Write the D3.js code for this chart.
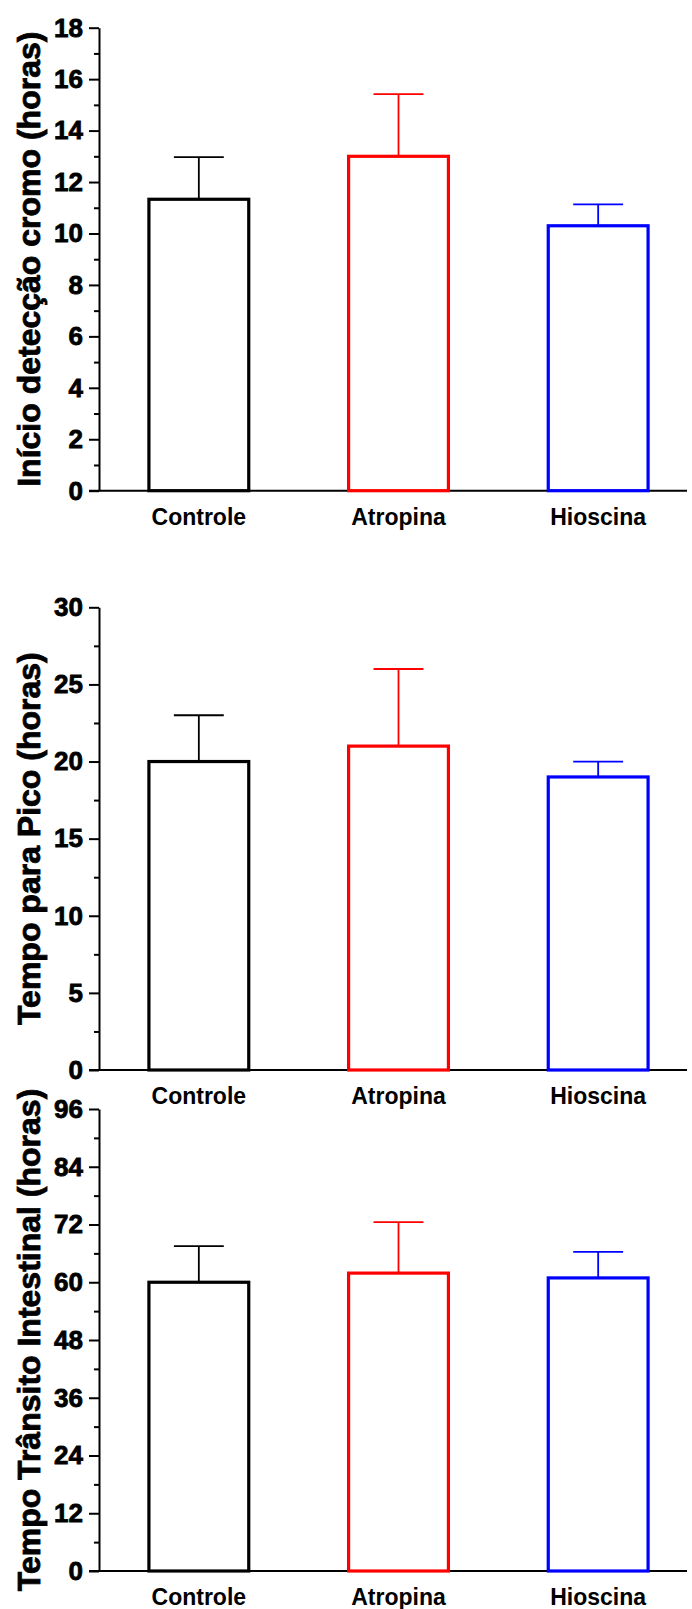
<!DOCTYPE html>
<html lang="pt">
<head>
<meta charset="utf-8">
<script src="https://cdn.jsdelivr.net/npm/d3@7"></script>
<style>
  body { margin: 0; background: #fff; }
  svg text { font-family: "Liberation Sans", Arial, sans-serif; font-weight: bold; fill: #000; }
  .heavy { stroke: #000; stroke-width: 0.8px; }
</style>
</head>
<body>
<svg id="chart" width="692" height="1609"></svg>
<script>
// dados
var categories = ["Controle", "Atropina", "Hioscina"];
var barColors = ["#000000", "#ff0000", "#0000ff"];

var inicioMean = [11.33, 13.0, 10.3];
var inicioSem = [1.64, 2.42, 0.83];
var inicioTicks = [0, 2, 4, 6, 8, 10, 12, 14, 16, 18];

var picoMean = [20, 21, 19];
var picoSem = [3, 5, 1];
var picoTicks = [0, 5, 10, 15, 20, 25, 30];

var transitoMean = [60, 61.9, 60.9];
var transitoSem = [7.5, 10.6, 5.4];
var transitoTicks = [0, 12, 24, 36, 48, 60, 72, 84, 96];

var panels = [
  { title: "Início detecção cromo (horas)", mean: inicioMean, sem: inicioSem, ticks: inicioTicks, top: 27.7, bottom: 490.7 },
  { title: "Tempo para Pico (horas)", mean: picoMean, sem: picoSem, ticks: picoTicks, top: 607.3, bottom: 1070 },
  { title: "Tempo Trânsito Intestinal (horas)", mean: transitoMean, sem: transitoSem, ticks: transitoTicks, top: 1109, bottom: 1571 }
];

var axisX = 99;
var svg = d3.select("#chart");

var x = d3.scaleBand()
  .domain(categories)
  .range([axisX, 698])
  .paddingInner(0.5)
  .paddingOuter(0.25);

panels.forEach(function (p) {
  var maxV = p.ticks[p.ticks.length - 1];
  var step = p.ticks[1] - p.ticks[0];
  var y = d3.scaleLinear().domain([0, maxV]).range([p.bottom, p.top]);

  // minor ticks between the labelled ones
  var minor = p.ticks.slice(0, -1).map(function (t) { return t + step / 2; });

  var g = svg.append("g");

  g.append("g")
    .attr("transform", "translate(" + axisX + ",0)")
    .call(d3.axisLeft(y).tickValues(minor).tickSize(5).tickSizeOuter(0).tickFormat(""))
    .call(function (a) { a.select(".domain").remove(); })
    .selectAll("line").attr("stroke", "#000").attr("stroke-width", 2);

  var ax = g.append("g")
    .attr("transform", "translate(" + axisX + ",0)")
    .call(d3.axisLeft(y).tickValues(p.ticks).tickSize(10).tickSizeOuter(0).tickPadding(6).tickFormat(d3.format("d")));
  ax.select(".domain").attr("stroke", "#000").attr("stroke-width", 2);
  ax.selectAll("line").attr("stroke", "#000").attr("stroke-width", 2);
  ax.selectAll("text")
    .attr("class", "heavy")
    .attr("font-size", 26)
    .attr("font-family", null)
    .style("font-weight", "bold");

  // x axis line
  g.append("line")
    .attr("x1", axisX - 10).attr("x2", 687)
    .attr("y1", y(0)).attr("y2", y(0))
    .attr("stroke", "#000").attr("stroke-width", 2);

  var rows = categories.map(function (c, i) {
    return { cat: c, mean: p.mean[i], sem: p.sem[i], color: barColors[i] };
  });

  var capW = x.bandwidth() / 2;

  // error bars (upper only)
  var eb = g.selectAll(".err").data(rows).enter().append("g").attr("class", "err");
  eb.append("line")
    .attr("x1", function (d) { return x(d.cat) + x.bandwidth() / 2; })
    .attr("x2", function (d) { return x(d.cat) + x.bandwidth() / 2; })
    .attr("y1", function (d) { return y(d.mean); })
    .attr("y2", function (d) { return y(d.mean + d.sem); })
    .attr("stroke", function (d) { return d.color; })
    .attr("stroke-width", 1.8);
  eb.append("line")
    .attr("x1", function (d) { return x(d.cat) + x.bandwidth() / 2 - capW / 2; })
    .attr("x2", function (d) { return x(d.cat) + x.bandwidth() / 2 + capW / 2; })
    .attr("y1", function (d) { return y(d.mean + d.sem); })
    .attr("y2", function (d) { return y(d.mean + d.sem); })
    .attr("stroke", function (d) { return d.color; })
    .attr("stroke-width", 1.8);

  // bars, open with coloured outline
  g.selectAll(".bar").data(rows).enter().append("rect")
    .attr("class", "bar")
    .attr("x", function (d) { return x(d.cat); })
    .attr("width", x.bandwidth())
    .attr("y", function (d) { return y(d.mean); })
    .attr("height", function (d) { return y(0) - y(d.mean); })
    .attr("fill", "none")
    .attr("stroke", function (d) { return d.color; })
    .attr("stroke-width", 3.2);

  // category labels
  g.selectAll(".xlab").data(categories).enter().append("text")
    .attr("class", "xlab")
    .attr("x", function (d) { return x(d) + x.bandwidth() / 2; })
    .attr("y", y(0) + 34)
    .attr("text-anchor", "middle")
    .attr("font-size", 23)
    .text(function (d) { return d; });

  // y title
  g.append("text")
    .attr("class", "heavy")
    .attr("transform", "translate(40," + ((p.top + p.bottom) / 2) + ") rotate(-90)")
    .attr("text-anchor", "middle")
    .attr("font-size", 32)
    .text(p.title);
});
</script>
</body>
</html>
